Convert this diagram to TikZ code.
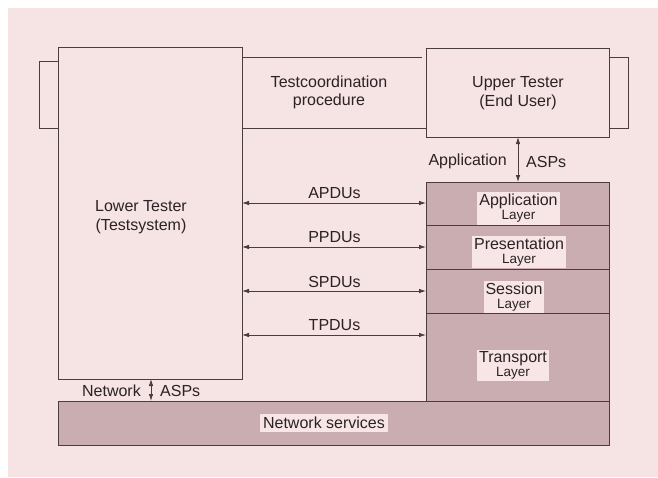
\documentclass[tikz,border=0pt]{standalone}
\usepackage{fontspec}
\setmainfont{Liberation Sans}
\usetikzlibrary{arrows.meta}
\definecolor{bgpink}{HTML}{F6E3E3}
\definecolor{hatch}{HTML}{C9ADB1}
\definecolor{lblpink}{HTML}{F8E6E7}
\definecolor{ink}{HTML}{4A3D40}
\definecolor{txt}{HTML}{2A2224}
\tikzset{
  box/.style={draw=ink, line width=0.9pt, inner sep=0pt, outer sep=0pt, anchor=north west},
  layer/.style={box, fill=hatch},
  lbl/.style={font=\fontsize{16}{18.5}\selectfont, text=txt, align=center, inner sep=0pt},
  lyl/.style={fill=lblpink, text=txt, align=center, inner sep=2pt, font=\fontsize{16}{14}\selectfont},
  dbl/.style={draw=ink, line width=0.8pt, {Latex[length=7pt,width=4.5pt]}-{Latex[length=7pt,width=4.5pt]}},
  ln/.style={draw=ink, line width=0.9pt}
}
\newcommand{\sm}[1]{{\fontsize{13.5}{14}\selectfont #1}}
\begin{document}
\begin{tikzpicture}[x=1pt,y=-1pt]
\useasboundingbox (0,0) rectangle (658,477);
\fill[white] (0,0) rectangle (658,477);
\fill[bgpink] (8,8) rectangle (658,477);
% side tabs
\node[box, minimum width=19pt, minimum height=67pt] (ltab) at (39,61) {};
\node[box, minimum width=19pt, minimum height=71pt] (rtab) at (609,57) {};
% lower tester
\node[box, fill=bgpink, minimum width=184pt, minimum height=332pt] (LT) at (58,47) {};
\node[lbl] (LTt) at (141,217) {Lower Tester\\(Testsystem)};
% upper tester
\node[box, fill=bgpink, minimum width=183pt, minimum height=89pt] (UT) at (426,48) {};
\node[lbl] (UTt) at (518,93) {Upper Tester\\(End User)};
% testcoordination band
\coordinate (bt1) at (242,57);
\coordinate (bt2) at (422,57);
\coordinate (bb1) at (242,128);
\coordinate (bb2) at (426,128);
\draw[ln] (bt1) -- (bt2);
\draw[ln] (bb1) -- (bb2);
\node[lbl] (TC) at (329,92.5) {Testcoordination\\procedure};
% layers
\node[layer, minimum width=183pt, minimum height=43.5pt] (AL) at (426,182) {};
\node[layer, minimum width=183pt, minimum height=44pt] (PL) at (426,225.5) {};
\node[layer, minimum width=183pt, minimum height=43.5pt] (SL) at (426,269.5) {};
\node[layer, minimum width=183pt, minimum height=88pt] (TL) at (426,313) {};
\node[layer, minimum width=551pt, minimum height=44pt] (NS) at (58,401) {};
\node[lyl] (ALt) at (518.5,208.5) {Application\\\sm{Layer}};
\node[lyl] (PLt) at (519,252) {Presentation\\\sm{Layer}};
\node[lyl] (SLt) at (514,297) {Session\\\sm{Layer}};
\node[lyl] (TLt) at (513,365.5) {Transport\\\sm{Layer}};
\node[lyl, inner sep=3pt] (NSt) at (324,423) {Network services};
% PDU arrows
\foreach \y/\t [count=\i] in {203/APDUs,247/PPDUs,291/SPDUs,335/TPDUs}{
  \coordinate (pl\i) at (242,\y);
  \coordinate (pr\i) at (426,\y);
  \draw[dbl] (pl\i) -- (pr\i);
  \node[lbl] (pt\i) at (334.5,\y-9.5) {\t};
}
% application ASPs
\coordinate (aa1) at (518,137);
\coordinate (aa2) at (518,182);
\draw[dbl] (aa1) -- (aa2);
\node[lbl, anchor=east] (appl) at (507,161.5) {Application};
\node[lbl, anchor=west] (apps) at (526,161.5) {ASPs};
% network ASPs
\coordinate (na1) at (151,379);
\coordinate (na2) at (151,401);
\draw[dbl] (na1) -- (na2);
\node[lbl, anchor=east] (netl) at (141,391) {Network};
\node[lbl, anchor=west] (nets) at (160,391) {ASPs};
\end{tikzpicture}
\end{document}
